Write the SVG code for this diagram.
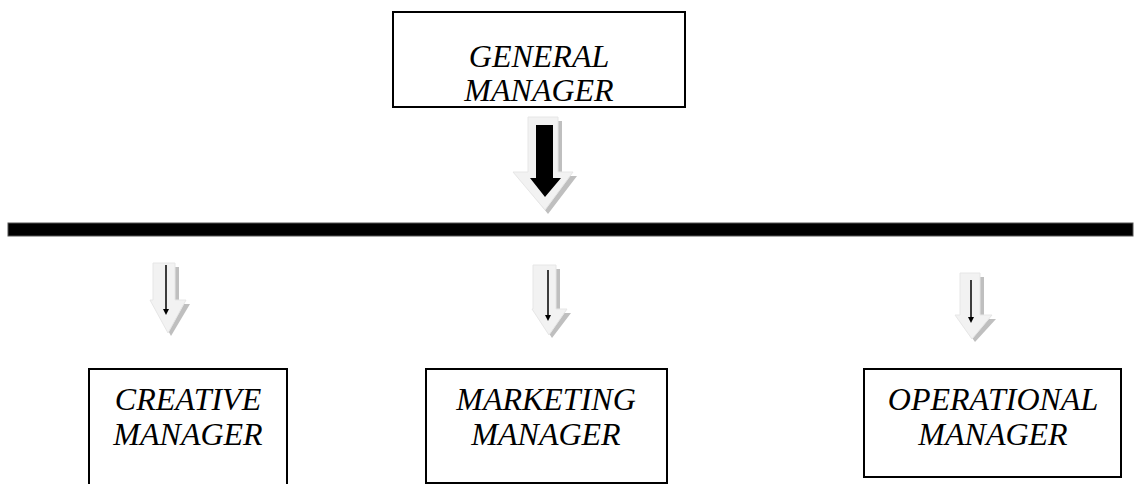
<svg xmlns="http://www.w3.org/2000/svg" width="1135" height="484" viewBox="0 0 1135 484">
<style>
.box{fill:#fff;stroke:#000;stroke-width:2}
.lbl{font-family:"Liberation Serif","Times New Roman",serif;font-style:italic;font-size:32px;fill:#000;text-anchor:middle}
.shadow{fill:#bfbfbf}
.light{fill:#f2f2f2;stroke:#e6e6e6;stroke-width:1}
</style>
<defs>
<marker id="tip" markerWidth="6" markerHeight="6" refX="3" refY="3" orient="auto" markerUnits="userSpaceOnUse">
<path d="M0,0 L6,3 L0,6 Z" fill="#000"/>
</marker>
</defs>
<rect width="1135" height="484" fill="#fff"/>
<g id="general-manager">
<rect class="box" x="393" y="12" width="292" height="95"/>
<text class="lbl" x="539" y="67">GENERAL</text>
<text class="lbl" x="539" y="101">MANAGER</text>
</g>
<g id="connectors">
<path class="shadow" d="M532,121 H562 V176 H577 L548,214 L518,176 H532 Z"/>
<path class="light" d="M528,117 H558 V172 H573 L545,210 L513,172 H528 Z"/>
<path d="M536,125 H553 V178 H561 L545,197 L530,178 H536 Z" fill="#000"/>
<rect x="8" y="223" width="1125" height="13" fill="#000" stroke="#555" stroke-width="1"/>
<path class="shadow" d="M157,267 H179 V304 H190 L171,336 L154,304 H157 Z"/>
<path class="light" d="M153,263 H175 V300 H186 L168,333 L150,300 H153 Z"/>
<line x1="166" y1="265" x2="166" y2="312" stroke="#000" stroke-width="1.5" marker-end="url(#tip)"/>
<path class="shadow" d="M537,269 H560 V313 H571 L552,338 L536,313 H537 Z"/>
<path class="light" d="M533,265 H556 V309 H567 L549,335 L532,309 H533 Z"/>
<line x1="548" y1="270" x2="548" y2="318" stroke="#000" stroke-width="1.5" marker-end="url(#tip)"/>
<path class="shadow" d="M964,277 H984 V319 H996 L975,342 L959,319 H964 Z"/>
<path class="light" d="M960,273 H980 V315 H992 L972,339 L955,315 H960 Z"/>
<line x1="971" y1="280" x2="971" y2="320" stroke="#000" stroke-width="1.5" marker-end="url(#tip)"/>
</g>
<g id="creative-manager">
<rect class="box" x="89" y="369" width="198" height="120"/>
<text class="lbl" x="188" y="410">CREATIVE</text>
<text class="lbl" x="188" y="445">MANAGER</text>
</g>
<g id="marketing-manager">
<rect class="box" x="426" y="369" width="241" height="114"/>
<text class="lbl" x="546" y="410">MARKETING</text>
<text class="lbl" x="546" y="445">MANAGER</text>
</g>
<g id="operational-manager">
<rect class="box" x="864" y="369" width="257" height="108"/>
<text class="lbl" x="993" y="410">OPERATIONAL</text>
<text class="lbl" x="993" y="445">MANAGER</text>
</g>
</svg>
